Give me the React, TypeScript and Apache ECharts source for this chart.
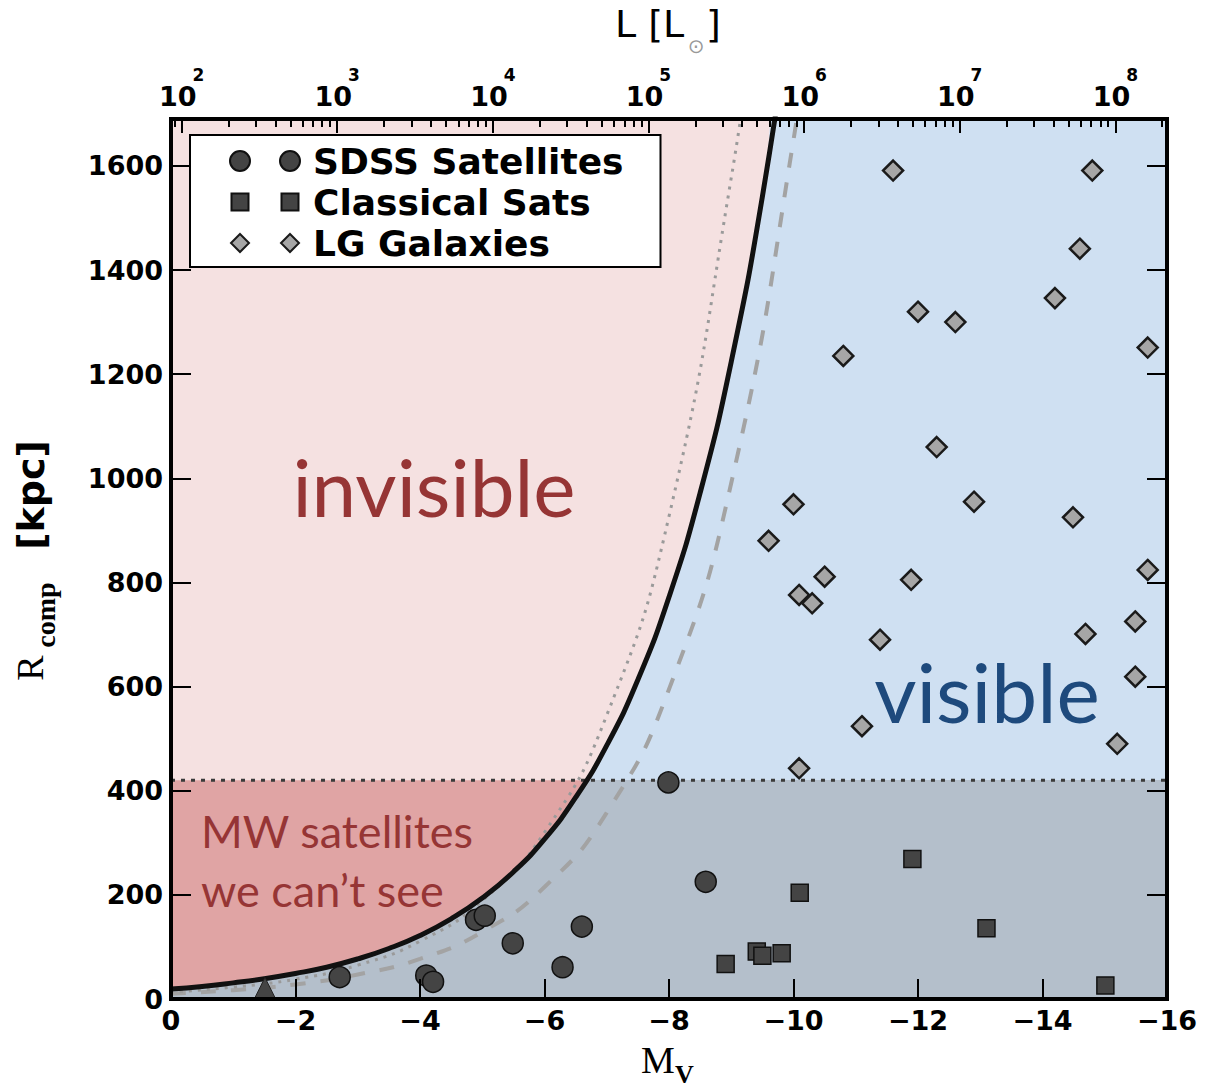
import React, { useEffect, useRef } from 'react';
import * as echarts from 'echarts';

// ---------- axis ranges & ticks ----------
const MV_MIN = -16;
const MV_MAX = 0;
const R_MIN = 0;
const R_MAX = 1690;
const MV_INTERVAL = 2;
const R_TICKS = [0, 200, 400, 600, 800, 1000, 1200, 1400, 1600];
const L_DECADE_EXPONENTS = [2, 3, 4, 5, 6, 7, 8];
const L_MINOR_DECADES = [1, 2, 3, 4, 5, 6, 7, 8];
const L_MINOR_MULTIPLIERS = [2, 3, 4, 5, 6, 7, 8, 9];
const MSUN_V = 4.83; // solar absolute V magnitude (top-axis conversion)

// ---------- data ----------
const R_SURVEY_LIMIT = 420; // kpc, horizontal dotted line

// [M_V, R_comp (kpc)]
const solidCurve = [
  [0, 19], [-0.5, 24], [-1, 31], [-1.5, 39], [-2, 49], [-2.5, 61], [-3, 77],
  [-3.5, 97], [-4, 122], [-4.5, 154], [-5, 194], [-5.5, 244], [-6, 307],
  [-6.5, 387], [-7, 487], [-7.5, 613], [-8, 772], [-8.5, 972], [-9, 1224],
  [-9.5, 1541], [-10, 1940],
];
const dottedCurve = [
  [0, 13], [-1, 23], [-2, 38], [-3, 65], [-4, 111], [-5, 189], [-6, 320],
  [-7, 545], [-8, 927], [-9, 1577], [-9.5, 2000],
];
const dashedCurve = [
  [0, 10], [-1, 17], [-2, 28], [-3, 47], [-4, 77], [-5, 129], [-6, 215],
  [-7, 358], [-8, 595], [-9, 991], [-10, 1650], [-10.5, 2100],
];
const sdssSatellites = [
  [-2.71, 42], [-4.10, 45], [-4.21, 33], [-4.90, 152], [-5.04, 160],
  [-5.49, 107], [-6.29, 61], [-6.60, 139], [-7.99, 416], [-8.59, 225],
];
const classicalSats = [
  [-8.91, 67], [-9.41, 91], [-9.50, 83], [-9.81, 88], [-10.10, 204],
  [-11.91, 269], [-13.10, 136], [-15.01, 26],
];
const lgGalaxies = [
  [-11.60, 1591], [-14.80, 1591], [-14.60, 1441], [-14.20, 1346], [-12.00, 1320],
  [-12.60, 1300], [-10.80, 1235], [-15.69, 1251], [-12.30, 1060], [-10.00, 950],
  [-12.90, 955], [-14.49, 925], [-9.60, 880], [-10.50, 811], [-11.89, 805],
  [-15.69, 824], [-10.09, 776], [-10.30, 760], [-11.39, 690], [-14.69, 701],
  [-15.49, 725], [-15.49, 619], [-11.10, 524], [-15.20, 490], [-10.09, 443],
];
const faintSatellite = [[-1.51, 21]];

// ---------- helpers ----------
const magFromL = (L: number) => MSUN_V - 2.5 * Math.log10(L);
const inRange = (m: number) => m >= MV_MIN && m <= MV_MAX;
const topMajor = L_DECADE_EXPONENTS.map((e) => magFromL(Math.pow(10, e))).filter(inRange);
const topMinor: number[] = [];
L_MINOR_DECADES.forEach((e) =>
  L_MINOR_MULTIPLIERS.forEach((k) => {
    const m = magFromL(k * Math.pow(10, e));
    if (inRange(m)) topMinor.push(m);
  })
);
const visibleFill = solidCurve.concat([[MV_MIN, solidCurve[solidCurve.length - 1][1]]]);

const C_BG_PINK = '#F5E1E1';
const C_BLUE = '#CFE0F2';
const C_DARK_PINK = '#E0A4A4';
const C_GRAY_BLUE = '#B4BFCB';
const C_RED_TEXT = '#963535';
const C_BLUE_TEXT = '#1E4A7D';

const ICON_CIRCLES =
  'path://M0,0M78,22M0,11a10,10 0 1,0 20,0a10,10 0 1,0 -20,0M50,11a10,10 0 1,0 20,0a10,10 0 1,0 -20,0';
const ICON_SQUARES = 'path://M0,0M78,22M1.5,2.5h17v17h-17zM51.5,2.5h17v17h-17z';
const ICON_DIAMONDS = 'path://M0,0M78,22M10,2L19,11L10,20L1,11zM60,2L69,11L60,20L51,11z';

const tickFont = { fontFamily: 'DejaVu Sans', fontWeight: 'bold' as const, fontSize: 27, color: '#000' };
const frameLine = { show: true, onZero: false, lineStyle: { color: '#000', width: 4, cap: 'square' as const } };
const tickLine = { color: '#000', width: 2 };
const GRID_BOX = { left: 171, right: 39, top: 119, bottom: 91 };

export default function App() {
  const ref = useRef<HTMLDivElement>(null);
  useEffect(() => {
    if (!ref.current) return;
    const chart = echarts.init(ref.current, undefined, { renderer: 'svg' });
    const option: any = {
      animation: false,
      grid: [
        { ...GRID_BOX, show: true, backgroundColor: C_BG_PINK, borderWidth: 0 },
        { ...GRID_BOX, show: false },
      ],
      xAxis: [
        {
          type: 'value', gridIndex: 0, position: 'bottom', min: MV_MIN, max: MV_MAX, interval: MV_INTERVAL,
          inverse: true, z: 10, axisLine: frameLine,
          axisTick: { inside: true, length: 20, lineStyle: tickLine },
          axisLabel: {
            ...tickFont, margin: 8,
            formatter: (v: number) => (v === 0 ? '0' : '\u2212' + Math.abs(v)),
          },
          splitLine: { show: false },
        },
        {
          type: 'value', gridIndex: 0, position: 'top', min: MV_MIN, max: MV_MAX, inverse: true, z: 10,
          axisLine: frameLine,
          axisTick: { inside: true, length: 14, customValues: topMajor, lineStyle: tickLine },
          axisLabel: {
            customValues: topMajor, margin: 9,
            formatter: (v: number) => `{b|10}{s|${Math.round((MSUN_V - v) / 2.5)}}`,
            rich: {
              b: { fontFamily: 'DejaVu Sans', fontWeight: 'bold', fontSize: 27, color: '#000', padding: [22, 0, 0, 0] },
              s: { fontFamily: 'DejaVu Sans', fontWeight: 'bold', fontSize: 17, color: '#000', padding: [0, 0, 22, -4] },
            },
          },
          splitLine: { show: false },
        },
        {
          type: 'value', gridIndex: 1, position: 'top', min: MV_MIN, max: MV_MAX, inverse: true, z: 10,
          axisLine: { show: false, onZero: false },
          axisTick: { inside: true, length: 8, customValues: topMinor, lineStyle: tickLine },
          axisLabel: { show: false },
          splitLine: { show: false },
        },
      ],
      yAxis: [
        {
          type: 'value', gridIndex: 0, position: 'left', min: R_MIN, max: R_MAX, z: 10, axisLine: frameLine,
          axisTick: { inside: true, length: 20, customValues: R_TICKS, lineStyle: tickLine },
          axisLabel: { ...tickFont, margin: 8, customValues: R_TICKS, formatter: (v: number) => String(v) },
          splitLine: { show: false },
        },
        {
          type: 'value', gridIndex: 0, position: 'right', min: R_MIN, max: R_MAX, z: 10, axisLine: frameLine,
          axisTick: { inside: true, length: 20, customValues: R_TICKS, lineStyle: tickLine },
          axisLabel: { show: false },
          splitLine: { show: false },
        },
        {
          type: 'value', gridIndex: 1, show: false, min: R_MIN, max: R_MAX,
          axisLine: { onZero: false },
        },
      ],
      visualMap: [
        {
          type: 'piecewise', show: false, seriesIndex: 1, dimension: 1,
          pieces: [
            { gte: 0, lt: R_SURVEY_LIMIT, color: C_GRAY_BLUE },
            { gte: R_SURVEY_LIMIT, lte: 1000000, color: C_BLUE },
          ],
        },
      ],
      legend: {
        orient: 'vertical', left: 190, top: 135, padding: [8, 37, 6, 39],
        itemGap: 5, itemWidth: 78, itemHeight: 22,
        backgroundColor: '#fff', borderColor: '#000', borderWidth: 2, borderRadius: 0,
        selectedMode: false, z: 8,
        textStyle: { fontFamily: 'DejaVu Sans', fontWeight: 'bold', fontSize: 36, color: '#000' },
        data: [
          { name: 'SDSS Satellites', icon: ICON_CIRCLES },
          { name: 'Classical Sats', icon: ICON_SQUARES },
          { name: 'LG Galaxies', icon: ICON_DIAMONDS },
        ],
      },
      series: [
        {
          type: 'line', silent: true, z: 1, symbol: 'none',
          data: [[MV_MAX, R_SURVEY_LIMIT], [MV_MIN, R_SURVEY_LIMIT]],
          lineStyle: { width: 0 }, areaStyle: { color: C_DARK_PINK, opacity: 1 },
        },
        {
          type: 'line', silent: true, z: 2, symbol: 'none', smooth: true,
          data: visibleFill, lineStyle: { width: 0 }, areaStyle: { opacity: 1 },
        },
        {
          type: 'line', silent: true, z: 3, symbol: 'none',
          data: [[MV_MAX, R_SURVEY_LIMIT], [MV_MIN, R_SURVEY_LIMIT]],
          lineStyle: { color: '#3a3a3a', width: 3, type: [4, 6] },
        },
        {
          type: 'line', silent: true, z: 4, symbol: 'none', smooth: true, data: dashedCurve,
          lineStyle: { color: '#A3A3A3', width: 4, type: [15, 15] },
        },
        {
          type: 'line', silent: true, z: 4, symbol: 'none', smooth: true, data: dottedCurve,
          lineStyle: { color: '#9A9A9A', width: 3, type: [3, 6] },
        },
        {
          type: 'line', silent: true, z: 5, symbol: 'none', smooth: true, data: solidCurve,
          lineStyle: { color: '#111', width: 5 },
        },
        {
          name: 'SDSS Satellites', type: 'scatter', z: 6, symbol: 'circle', symbolSize: 21,
          data: sdssSatellites, itemStyle: { color: '#444', borderColor: '#111', borderWidth: 1.5, opacity: 1 },
        },
        {
          name: 'Classical Sats', type: 'scatter', z: 6, symbol: 'rect', symbolSize: 17,
          data: classicalSats, itemStyle: { color: '#444', borderColor: '#111', borderWidth: 1.5, opacity: 1 },
        },
        {
          name: 'LG Galaxies', type: 'scatter', z: 6, symbol: 'diamond', symbolSize: 20,
          data: lgGalaxies, itemStyle: { color: '#A6A6A6', borderColor: '#1a1a1a', borderWidth: 2.5, opacity: 1 },
        },
        {
          name: 'faint', type: 'scatter', z: 6, symbol: 'triangle', symbolSize: 21,
          data: faintSatellite, itemStyle: { color: '#444', borderColor: '#222', borderWidth: 1, opacity: 1 },
        },
      ],
      graphic: [
        { type: 'text', x: 434, y: 486, z: 20, style: { text: 'invisible', fontFamily: 'Lato', fontSize: 80, fill: C_RED_TEXT, align: 'center', verticalAlign: 'middle' } },
        { type: 'text', x: 987, y: 691, z: 20, style: { text: 'visible', fontFamily: 'Lato', fontSize: 82, fill: C_BLUE_TEXT, align: 'center', verticalAlign: 'middle' } },
        { type: 'text', x: 201, y: 831, z: 20, style: { text: 'MW satellites', fontFamily: 'Lato', fontSize: 45, fill: C_RED_TEXT, align: 'left', verticalAlign: 'middle' } },
        { type: 'text', x: 201, y: 890, z: 20, style: { text: 'we can\u2019t see', fontFamily: 'Lato', fontSize: 45, fill: C_RED_TEXT, align: 'left', verticalAlign: 'middle' } },
        { type: 'text', x: 658, y: 1060, z: 20, style: { text: 'M', fontFamily: 'Liberation Serif', fontSize: 38, fill: '#000', align: 'center', verticalAlign: 'middle' } },
        { type: 'text', x: 675, y: 1074, z: 20, style: { text: 'V', fontFamily: 'Liberation Serif', fontWeight: 'bold', fontSize: 26, fill: '#000', align: 'left', verticalAlign: 'middle' } },
        { type: 'text', x: 30, y: 668, z: 20, rotation: Math.PI / 2, style: { text: 'R', fontFamily: 'Liberation Serif', fontSize: 38, fill: '#000', align: 'center', verticalAlign: 'middle' } },
        { type: 'text', x: 45, y: 615, z: 20, rotation: Math.PI / 2, style: { text: 'comp', fontFamily: 'Liberation Serif', fontWeight: 'bold', fontSize: 28, fill: '#000', align: 'center', verticalAlign: 'middle' } },
        { type: 'text', x: 31, y: 495, z: 20, rotation: Math.PI / 2, style: { text: '[kpc]', fontFamily: 'DejaVu Sans', fontWeight: 'bold', fontSize: 38, fill: '#000', align: 'center', verticalAlign: 'middle' } },
        { type: 'text', x: 615, y: 24, z: 20, style: { text: 'L [L', fontFamily: 'DejaVu Sans', fontSize: 38, fill: '#000', align: 'left', verticalAlign: 'middle' } },
        { type: 'text', x: 696, y: 46, z: 20, style: { text: '\u2299', fontFamily: 'DejaVu Sans', fontSize: 20, fill: '#999', align: 'center', verticalAlign: 'middle' } },
        { type: 'text', x: 706, y: 24, z: 20, style: { text: ']', fontFamily: 'DejaVu Sans', fontSize: 38, fill: '#000', align: 'left', verticalAlign: 'middle' } },
      ],
    };
    chart.setOption(option);
    return () => chart.dispose();
  }, []);
  return (
    <div
      ref={ref}
      style={{ position: 'fixed', left: 0, top: 0, width: 1206, height: 1090, background: '#fff' }}
    />
  );
}
